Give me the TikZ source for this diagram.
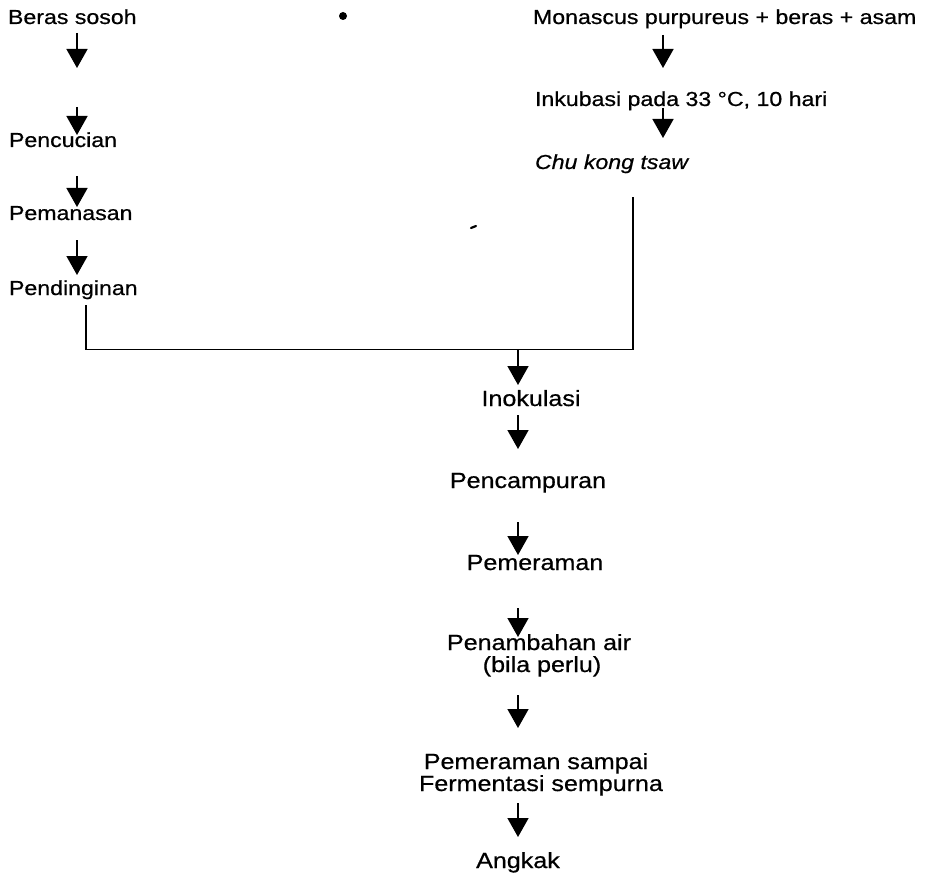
\documentclass[tikz,border=0pt]{standalone}
\usepackage{fontspec}
\setmainfont{Liberation Sans}[FakeStretch=1.14, FakeBold=0.6]
\usetikzlibrary{arrows.meta}
\begin{document}
\begin{tikzpicture}[x=1pt,y=-1pt,
  lbl/.style={inner sep=0pt, outer sep=0pt, font=\fontsize{20.3}{24}\selectfont},
  lblb/.style={inner sep=0pt, outer sep=0pt, font=\fontsize{22}{22}\selectfont},
  arr/.style={line width=1.6pt, -{Triangle[length=19pt,width=21pt]}},
  conn/.style={line width=1.9pt}]
\useasboundingbox (0,0) rectangle (925,877);

% left column
\node[lbl, anchor=base west] (beras) at (8,24) {Beras sosoh};
\node[lbl, anchor=base west] (cuci) at (9,147) {Pencucian};
\node[lbl, anchor=base west] (panas) at (9,220) {Pemanasan};
\node[lbl, anchor=base west] (dingin) at (9,295) {Pendinginan};

% right column
\node[lbl, anchor=base west] (mon) at (533,24) {Monascus purpureus + beras + asam};
\node[lbl, anchor=base west] (inku) at (535,106) {Inkubasi pada 33 °C, 10 hari};
\node[lbl, anchor=base west, font=\fontsize{20.3}{24}\selectfont\itshape] (chu) at (535,169) {Chu kong tsaw};

% bottom column
\node[lblb, anchor=base] (inok) at (531,406) {Inokulasi};
\node[lblb, anchor=base] (campur) at (528,488) {Pencampuran};
\node[lblb, anchor=base] (peram) at (535,570) {Pemeraman};
\node[lblb, anchor=base] (tambah) at (539,650) {Penambahan air};
\node[lblb, anchor=base] (bila) at (542,672) {(bila perlu)};
\node[lblb, anchor=base] (sampai) at (536,769) {Pemeraman sampai};
\node[lblb, anchor=base] (ferm) at (541,791) {Fermentasi sempurna};
\node[lblb, anchor=base] (angkak) at (518,868) {Angkak};

% marks
\fill (343,16) circle (4);
\draw[line width=2.2pt, line cap=round] (471,228) -- (476,226);

% arrow coordinates
\coordinate (a1s) at (77,33);  \coordinate (a1e) at (77,68);
\coordinate (a2s) at (77,107); \coordinate (a2e) at (77,135);
\coordinate (a3s) at (77,176); \coordinate (a3e) at (77,207);
\coordinate (a4s) at (77,240); \coordinate (a4e) at (77,275);
\coordinate (b1s) at (663,35); \coordinate (b1e) at (663,68);
\coordinate (b2s) at (663,108); \coordinate (b2e) at (663,138);
\coordinate (c1s) at (518,415); \coordinate (c1e) at (518,449);
\coordinate (c2s) at (518,522); \coordinate (c2e) at (518,555);
\coordinate (c3s) at (518,608); \coordinate (c3e) at (518,637);
\coordinate (c4s) at (518,695); \coordinate (c4e) at (518,728);
\coordinate (c5s) at (518,803); \coordinate (c5e) at (518,837);

\draw[arr] (a1s) -- (a1e);
\draw[arr] (a2s) -- (a2e);
\draw[arr] (a3s) -- (a3e);
\draw[arr] (a4s) -- (a4e);
\draw[arr] (b1s) -- (b1e);
\draw[arr] (b2s) -- (b2e);
\draw[arr] (c1s) -- (c1e);
\draw[arr] (c2s) -- (c2e);
\draw[arr] (c3s) -- (c3e);
\draw[arr] (c4s) -- (c4e);
\draw[arr] (c5s) -- (c5e);

% joining lines
\coordinate (ls) at (86,305);
\coordinate (rs) at (633,197);
\coordinate (jn) at (518,349.5);
\coordinate (c0e) at (518,385);
\draw[conn] (ls) |- (jn) -| (rs);
\draw[arr] (jn) -- (c0e);
\end{tikzpicture}
\end{document}
